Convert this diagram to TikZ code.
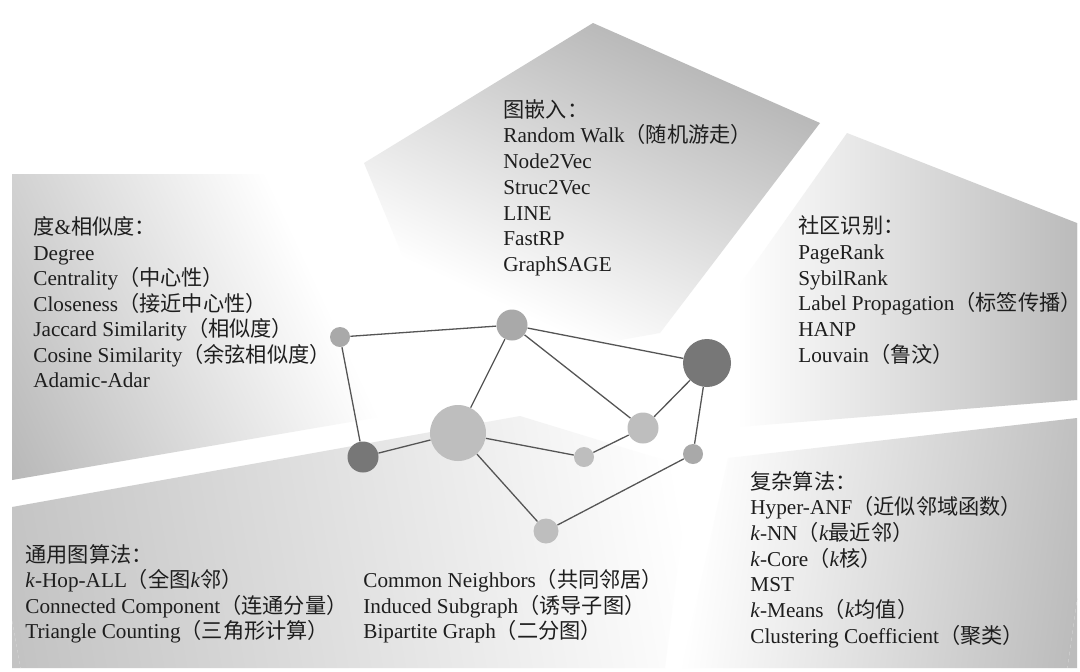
\documentclass[tikz,border=0pt]{standalone}
\usepackage{fontspec}
\setmainfont{Liberation Serif}
\newfontfamily\cjkf{Noto Sans CJK SC}
\newcommand\zhs[1]{{\cjkf #1}}
\newcommand\kk{\textit{k}}
\definecolor{pgL}{HTML}{B8B8B8}
\definecolor{pgT}{HTML}{B7B7B7}
\definecolor{pgR}{HTML}{BBBBBB}
\definecolor{pgBR}{HTML}{BCBCBC}
\definecolor{pgBL}{HTML}{C3C3C3}
\definecolor{txtc}{HTML}{1E1E1E}
\definecolor{edgec}{HTML}{555555}
\definecolor{ndark}{HTML}{777777}
\definecolor{nmid}{HTML}{A9A9A9}
\definecolor{nlight}{HTML}{BEBEBE}
\newcommand\panelshade[5]{%
  \begin{scope}
    \clip #1;
    \fill[#5, transform canvas={shift={#2}, rotate=#3}] (-1500,-1500) rectangle (0,1500);
    \shade[left color=#5, right color=white, transform canvas={shift={#2}, rotate=#3}] (0,-1500) rectangle (#4,1500);
  \end{scope}}
\newcommand\txtline[4]{\node[txt] (#1) at (#2,#3) {#4};}
\tikzset{
  txt/.style={anchor=base west, inner sep=0pt, text=txtc, font=\fontsize{10.6}{12}\selectfont},
  gnode/.style={circle, inner sep=0pt, minimum size=#1},
  edge/.style={draw=edgec, line width=0.65pt}
}
\begin{document}
\begin{tikzpicture}[x=0.5pt, y=-0.5pt]
\fill[white] (0,0) rectangle (1080,671);
% panels
\panelshade{(12,174) -- (345,174) -- (432,408) -- (12,480) -- cycle}{(12,480)}{25}{360}{pgL}
\panelshade{(364,163) -- (593,23) -- (820,123) -- (660,333) -- (450,370) -- cycle}{(600,14)}{245}{305}{pgT}
\panelshade{(847,133) -- (1077,223) -- (1077,400) -- (700,430) -- (700,341) -- cycle}{(1077,300)}{180}{340}{pgR}
\panelshade{(1077,418) -- (728,458) -- (682,668) -- (1077,668) -- cycle}{(1077,600)}{172}{385}{pgBR}
\panelshade{(12,507) -- (520,416) -- (690,468) -- (665,668) -- (12,668) -- cycle}{(12,620)}{10}{680}{pgBL}
% graph
\node[gnode=10pt, fill=nmid] (n1) at (340,337) {};
\node[gnode=15.5pt, fill=nmid] (n2) at (512,325) {};
\node[gnode=24pt, fill=ndark] (n3) at (707,363) {};
\node[gnode=15.5pt, fill=ndark] (n4) at (363,457) {};
\node[gnode=28pt, fill=nlight] (n5) at (458,433) {};
\node[gnode=15.5pt, fill=nlight] (n6) at (643,428) {};
\node[gnode=10pt, fill=nlight] (n7) at (584,457) {};
\node[gnode=10pt, fill=nmid] (n8) at (693,454) {};
\node[gnode=12.5pt, fill=nlight] (n9) at (546,531) {};
\foreach \a/\b in {n1/n2, n1/n4, n2/n5, n2/n6, n2/n3, n3/n6, n3/n8, n4/n5, n5/n7, n7/n6, n5/n9, n9/n8}
  \draw[edge] (\a) -- (\b);
% left panel text
\txtline{l0}{33}{234.5}{\zhs{度}\&\zhs{相似度：}}
\txtline{l1}{33}{260}{Degree}
\txtline{l2}{33}{285.5}{Centrality\zhs{（中心性）}}
\txtline{l3}{33}{311}{Closeness\zhs{（接近中心性）}}
\txtline{l4}{33}{336.5}{Jaccard Similarity\zhs{（相似度）}}
\txtline{l5}{33}{362}{Cosine Similarity\zhs{（余弦相似度）}}
\txtline{l6}{33}{387.5}{Adamic-Adar}
% top panel text
\txtline{t0}{503}{117}{\zhs{图嵌入：}}
\txtline{t1}{503}{142.7}{Random Walk\zhs{（随机游走）}}
\txtline{t2}{503}{168.5}{Node2Vec}
\txtline{t3}{503}{194.3}{Struc2Vec}
\txtline{t4}{503}{220}{LINE}
\txtline{t5}{503}{245.8}{FastRP}
\txtline{t6}{503}{271.6}{GraphSAGE}
% right panel text
\txtline{r0}{798}{233.7}{\zhs{社区识别：}}
\txtline{r1}{798}{259.3}{PageRank}
\txtline{r2}{798}{285}{SybilRank}
\txtline{r3}{798}{310.7}{Label Propagation\zhs{（标签传播）}}
\txtline{r4}{798}{336.3}{HANP}
\txtline{r5}{798}{362}{Louvain\zhs{（鲁汶）}}
% bottom-right panel text
\txtline{b0}{750}{489}{\zhs{复杂算法：}}
\txtline{b1}{750}{514.7}{Hyper-ANF\zhs{（近似邻域函数）}}
\txtline{b2}{750}{540.3}{\kk-NN\zhs{（}\kk\zhs{最近邻）}}
\txtline{b3}{750}{566}{\kk-Core\zhs{（}\kk\zhs{核）}}
\txtline{b4}{750}{591.7}{MST}
\txtline{b5}{750}{617.3}{\kk-Means\zhs{（}\kk\zhs{均值）}}
\txtline{b6}{750}{643}{Clustering Coefficient\zhs{（聚类）}}
% bottom-left panel text
\txtline{g0}{25}{562}{\zhs{通用图算法：}}
\txtline{g1}{25}{587.5}{\kk-Hop-ALL\zhs{（全图}\kk\zhs{邻）}}
\txtline{g2}{25}{613}{Connected Component\zhs{（连通分量）}}
\txtline{g3}{25}{638.5}{Triangle Counting\zhs{（三角形计算）}}
\txtline{h1}{363}{587.5}{Common Neighbors\zhs{（共同邻居）}}
\txtline{h2}{363}{613}{Induced Subgraph\zhs{（诱导子图）}}
\txtline{h3}{363}{638.5}{Bipartite Graph\zhs{（二分图）}}
\pgfresetboundingbox
\useasboundingbox (0,0) rectangle (1080,671);
\end{tikzpicture}
\end{document}
